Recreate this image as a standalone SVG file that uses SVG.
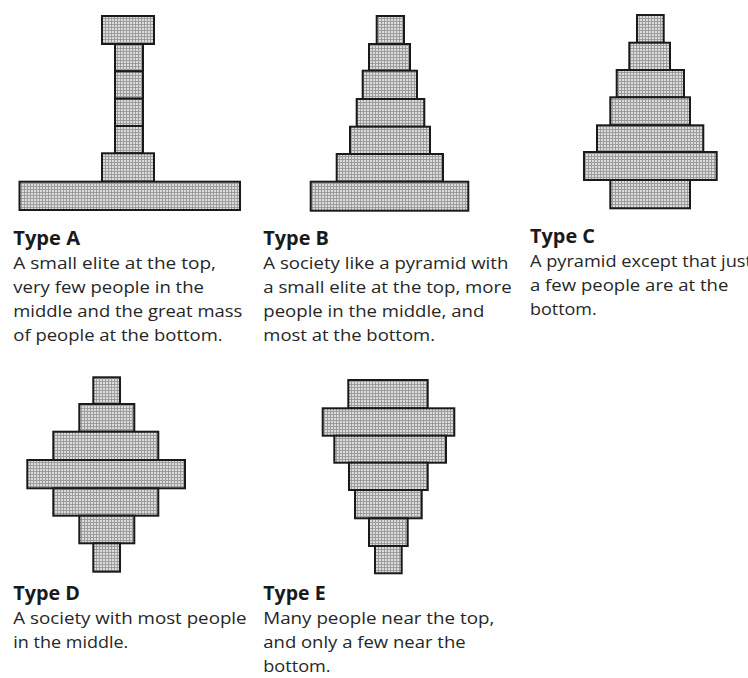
<svg xmlns="http://www.w3.org/2000/svg" width="748" height="678" viewBox="0 0 748 678">
<defs>
<pattern id="dots" x="0" y="0" width="3" height="3" patternUnits="userSpaceOnUse">
<rect width="3" height="3" fill="#9c9c9c"/>
<rect x="1" y="1" width="2" height="2" fill="#dcdcdc"/>
</pattern>
<style>
.b{fill:url(#dots);stroke:#1a1a1a;stroke-width:2}
.h{font-family:"Open Sans","Liberation Sans",sans-serif;font-weight:bold;font-size:20px;fill:#1a1a1a}
.t{font-family:"Open Sans","Liberation Sans",sans-serif;font-size:16.5px;fill:#262626}
</style>
</defs>
<rect width="748" height="678" fill="#ffffff"/>

<g id="typeA">
<rect class="b" x="102" y="16" width="52" height="28"/>
<rect class="b" x="115" y="44" width="28" height="27.3"/>
<rect class="b" x="115" y="71.3" width="28" height="27.3"/>
<rect class="b" x="115" y="98.7" width="28" height="27.3"/>
<rect class="b" x="115" y="126" width="28" height="27.3"/>
<rect class="b" x="102" y="153.3" width="52" height="28.4"/>
<rect class="b" x="19.5" y="181.7" width="220.5" height="28.3"/>
<text class="h" x="13.3" y="245" textLength="66.7" lengthAdjust="spacingAndGlyphs">Type A</text>
<text class="t" x="13.3" y="269.3" textLength="202.7" lengthAdjust="spacingAndGlyphs">A small elite at the top,</text>
<text class="t" x="13.3" y="293.1" textLength="190.7" lengthAdjust="spacingAndGlyphs">very few people in the</text>
<text class="t" x="13.3" y="316.9" textLength="229" lengthAdjust="spacingAndGlyphs">middle and the great mass</text>
<text class="t" x="13.3" y="340.7" textLength="209.3" lengthAdjust="spacingAndGlyphs">of people at the bottom.</text>
</g>

<g id="typeB">
<rect class="b" x="376.7" y="16" width="27.3" height="28"/>
<rect class="b" x="369" y="44" width="41" height="26.7"/>
<rect class="b" x="362.7" y="70.7" width="54.3" height="28.3"/>
<rect class="b" x="356.7" y="99" width="67.6" height="27.7"/>
<rect class="b" x="350" y="126.7" width="80" height="27.3"/>
<rect class="b" x="336.7" y="154" width="106.3" height="27.7"/>
<rect class="b" x="310.7" y="181.7" width="157.6" height="29"/>
<text class="h" x="263.3" y="245" textLength="65.7" lengthAdjust="spacingAndGlyphs">Type B</text>
<text class="t" x="263.3" y="269.3" textLength="245" lengthAdjust="spacingAndGlyphs">A society like a pyramid with</text>
<text class="t" x="263.3" y="293.1" textLength="248.3" lengthAdjust="spacingAndGlyphs">a small elite at the top, more</text>
<text class="t" x="263.3" y="316.9" textLength="221" lengthAdjust="spacingAndGlyphs">people in the middle, and</text>
<text class="t" x="263.3" y="340.7" textLength="171.7" lengthAdjust="spacingAndGlyphs">most at the bottom.</text>
</g>

<g id="typeC">
<rect class="b" x="637" y="15" width="26.7" height="27.7"/>
<rect class="b" x="629.3" y="42.7" width="40.7" height="27.3"/>
<rect class="b" x="616.7" y="70" width="67.3" height="27.3"/>
<rect class="b" x="610.3" y="97.3" width="79.7" height="28"/>
<rect class="b" x="597" y="125.3" width="106.3" height="26.7"/>
<rect class="b" x="584" y="152" width="132.7" height="28"/>
<rect class="b" x="610.3" y="180" width="79.7" height="28.3"/>
<text class="h" x="530" y="242.7" textLength="65" lengthAdjust="spacingAndGlyphs">Type C</text>
<text class="t" x="530" y="266.7" textLength="222" lengthAdjust="spacingAndGlyphs">A pyramid except that just</text>
<text class="t" x="530" y="290.7" textLength="198.3" lengthAdjust="spacingAndGlyphs">a few people are at the</text>
<text class="t" x="530" y="314.7" textLength="66.7" lengthAdjust="spacingAndGlyphs">bottom.</text>
</g>

<g id="typeD">
<rect class="b" x="93.3" y="377.3" width="26.7" height="26.7"/>
<rect class="b" x="79.3" y="404" width="55" height="27.7"/>
<rect class="b" x="53.3" y="431.7" width="105" height="28.3"/>
<rect class="b" x="27.3" y="460" width="157.7" height="28.3"/>
<rect class="b" x="53.3" y="488.3" width="105" height="27.4"/>
<rect class="b" x="79.3" y="515.7" width="55" height="27.6"/>
<rect class="b" x="93.3" y="543.3" width="26.7" height="28.4"/>
<text class="h" x="13.3" y="600" textLength="66.7" lengthAdjust="spacingAndGlyphs">Type D</text>
<text class="t" x="13.3" y="624.3" textLength="233.3" lengthAdjust="spacingAndGlyphs">A society with most people</text>
<text class="t" x="13.3" y="648.3" textLength="115" lengthAdjust="spacingAndGlyphs">in the middle.</text>
</g>

<g id="typeE">
<rect class="b" x="348.3" y="380" width="79.4" height="28.3"/>
<rect class="b" x="322.7" y="408.3" width="131.6" height="27.4"/>
<rect class="b" x="334.3" y="435.7" width="111.7" height="27"/>
<rect class="b" x="349" y="462.7" width="78.7" height="27.3"/>
<rect class="b" x="355" y="490" width="66.7" height="28.3"/>
<rect class="b" x="369" y="518.3" width="38.7" height="27.7"/>
<rect class="b" x="375" y="546" width="26.7" height="27.3"/>
<text class="h" x="263.3" y="600" textLength="62.3" lengthAdjust="spacingAndGlyphs">Type E</text>
<text class="t" x="263.3" y="624.3" textLength="231" lengthAdjust="spacingAndGlyphs">Many people near the top,</text>
<text class="t" x="263.3" y="648.3" textLength="202.3" lengthAdjust="spacingAndGlyphs">and only a few near the</text>
<text class="t" x="263.3" y="672.3" textLength="67.3" lengthAdjust="spacingAndGlyphs">bottom.</text>
</g>
</svg>
